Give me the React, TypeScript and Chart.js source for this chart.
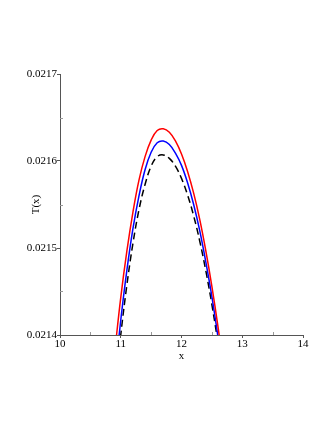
import React, { useEffect, useRef } from "react";
import { Chart, registerables } from "chart.js";

Chart.register(...registerables);

const xValues = [10.9, 11.0, 11.1, 11.2, 11.3, 11.4, 11.5, 11.6, 11.7, 11.8, 11.9, 12.0, 12.1, 12.2, 12.3, 12.4, 12.5, 12.6, 12.7];
const redValues = [0.02138, 0.021443, 0.021496, 0.021541, 0.021578, 0.021605, 0.021624, 0.021635, 0.021637, 0.021633, 0.021623, 0.021608, 0.021588, 0.021563, 0.021533, 0.021497, 0.021456, 0.02141, 0.021358];
const blueValues = [0.021351, 0.021417, 0.021474, 0.021522, 0.02156, 0.02159, 0.02161, 0.021621, 0.021623, 0.021619, 0.021609, 0.021595, 0.021575, 0.02155, 0.02152, 0.021484, 0.021444, 0.021398, 0.021347];
const blackValues = [0.021334, 0.0214, 0.021457, 0.021505, 0.021544, 0.021573, 0.021594, 0.021605, 0.021607, 0.021603, 0.021594, 0.02158, 0.021561, 0.021537, 0.021508, 0.021474, 0.021435, 0.021391, 0.021342];
const xMinorTicks = [10.5, 11.5, 12.5, 13.5];
const yMinorTicks = [0.02145, 0.02155, 0.02165];

const FONT = "'Liberation Serif', 'Times New Roman', serif";
const AXIS = "#555555";

const toPoints = (ys: number[]) => xValues.map((x, i) => ({ x, y: ys[i] }));

const minorTickPlugin = {
  id: "minorTicks",
  afterDraw(chart: any) {
    const { ctx, chartArea, scales } = chart;
    ctx.save();
    ctx.strokeStyle = "#999999";
    ctx.lineWidth = 1;
    ctx.beginPath();
    for (const v of xMinorTicks) {
      const px = Math.round(scales.x.getPixelForValue(v)) + 0.5;
      ctx.moveTo(px, chartArea.bottom);
      ctx.lineTo(px, chartArea.bottom - 3);
    }
    for (const v of yMinorTicks) {
      const py = Math.round(scales.y.getPixelForValue(v)) + 0.5;
      ctx.moveTo(chartArea.left, py);
      ctx.lineTo(chartArea.left + 3, py);
    }
    ctx.stroke();
    ctx.restore();
  },
};

export default function App() {
  const ref = useRef<HTMLCanvasElement | null>(null);
  useEffect(() => {
    if (!ref.current) return;
    const chart = new Chart(ref.current, {
      type: "line",
      data: {
        datasets: [
          { data: toPoints(redValues), borderColor: "#ff0000", borderWidth: 1.5, pointRadius: 0, tension: 0.4, fill: false },
          { data: toPoints(blueValues), borderColor: "#0000ff", borderWidth: 1.5, pointRadius: 0, tension: 0.4, fill: false },
          { data: toPoints(blackValues), borderColor: "#000000", borderWidth: 1.5, borderDash: [7, 4], pointRadius: 0, tension: 0.4, fill: false },
        ],
      },
      options: {
        animation: false,
        responsive: false,
        devicePixelRatio: 1,
        layout: { padding: { top: 74, right: 29, bottom: 0, left: 0 } },
        plugins: { legend: { display: false }, tooltip: { enabled: false } },
        scales: {
          x: {
            type: "linear",
            min: 10,
            max: 14,
            afterFit(scale: any) {
              scale.height = 95;
              scale.paddingLeft = 0;
              scale.paddingRight = 0;
            },
            border: { display: true, color: AXIS, width: 1 },
            grid: { display: true, drawOnChartArea: false, drawTicks: true, tickLength: 3, color: AXIS },
            ticks: { stepSize: 1, padding: 0, color: "#000", font: { family: FONT, size: 11 }, maxRotation: 0 },
            title: { display: true, text: "x", color: "#000", font: { family: FONT, size: 11 }, padding: { top: 0, bottom: 67 } },
          },
          y: {
            type: "linear",
            min: 0.0214,
            max: 0.0217,
            afterFit(scale: any) {
              scale.width = 60;
              scale.paddingTop = 0;
              scale.paddingBottom = 0;
            },
            border: { display: true, color: AXIS, width: 1 },
            grid: { display: true, drawOnChartArea: false, drawTicks: true, tickLength: 3, color: AXIS },
            ticks: {
              stepSize: 0.0001,
              padding: 0,
              color: "#000",
              font: { family: FONT, size: 11 },
              callback: (v: any) => Number(v).toFixed(4),
            },
            title: { display: true, text: "T(x)", color: "#000", font: { family: FONT, size: 11 }, padding: { top: 30, bottom: 0 } },
          },
        },
      },
      plugins: [minorTickPlugin],
    });
    return () => chart.destroy();
  }, []);
  return (
    <div style={{ position: "absolute", left: 0, top: 0, width: 332, height: 430, background: "#fff" }}>
      <canvas ref={ref} width={332} height={430} />
    </div>
  );
}
